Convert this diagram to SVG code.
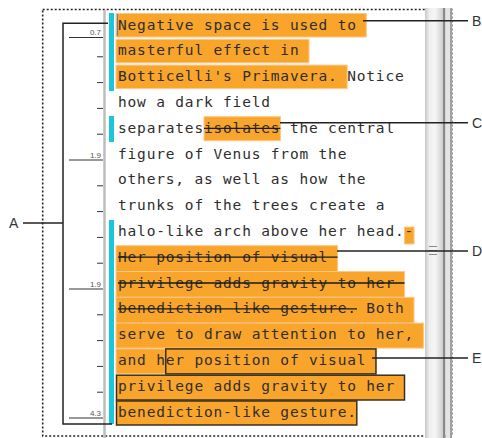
<svg xmlns="http://www.w3.org/2000/svg" width="482" height="438" viewBox="0 0 482 438">
<defs>
<style>
.t{font-family:"DejaVu Sans Mono","Liberation Mono",monospace;font-size:14.5px;letter-spacing:0.82px;fill:#2e2e2e}
.h{fill:#f9a52c;stroke:#fcc888;stroke-width:1}
.hb{fill:#f9a52c;stroke:#3a3020;stroke-width:1.5}
.cy{fill:#19c6dc}
.st{stroke:#1a1a1a;stroke-width:1.3}
.ld{stroke:#222;stroke-width:1.5;fill:none}
.lbl{font-family:"Liberation Sans",Arial,sans-serif;font-size:14px;fill:#333}
.rn{font-family:"Liberation Sans",Arial,sans-serif;font-size:8px;fill:#555;text-anchor:end}
.tk{stroke:#333;stroke-width:1}
</style>
<linearGradient id="sb" x1="0" x2="1" y1="0" y2="0">
<stop offset="0" stop-color="#c8c8c8"/>
<stop offset="0.25" stop-color="#efefef"/>
<stop offset="0.55" stop-color="#f6f6f6"/>
<stop offset="1" stop-color="#cfcfcf"/>
</linearGradient>
</defs>
<rect width="482" height="438" fill="#fff"/>
<g id="frame">
<rect x="42.7" y="9.5" width="409" height="426.5" fill="none" stroke="#222" stroke-width="1.6" stroke-dasharray="2 2"/>
</g>
<g id="scrollbar">
<rect x="425" y="8" width="18" height="430" fill="url(#sb)"/>
<rect x="443" y="8" width="2.5" height="430" fill="#8a8a8a"/>
<rect x="445.5" y="8" width="4.5" height="430" fill="#e4e4e4"/>
<rect x="450" y="8" width="2" height="430" fill="#a0a0a0"/>
<line x1="429" y1="246.5" x2="437" y2="246.5" stroke="#888" stroke-width="1"/>
<line x1="429" y1="250.5" x2="437" y2="250.5" stroke="#888" stroke-width="1"/>
<line x1="429" y1="254.5" x2="437" y2="254.5" stroke="#888" stroke-width="1"/>
</g>
<g id="ruler">
<line x1="104.5" y1="10" x2="104.5" y2="438" stroke="#bdbdbd" stroke-width="2.5"/>
<line class="tk" x1="69" y1="37.5" x2="103" y2="37.5"/><text class="rn" x="101" y="35">0.7</text>
<line class="tk" x1="97" y1="56.8" x2="103" y2="56.8"/>
<line class="tk" x1="97" y1="82.6" x2="103" y2="82.6"/>
<line class="tk" x1="97" y1="108.4" x2="103" y2="108.4"/>
<line class="tk" x1="97" y1="134.2" x2="103" y2="134.2"/>
<line class="tk" x1="69" y1="160" x2="103" y2="160"/><text class="rn" x="101" y="157.5">1.9</text>
<line class="tk" x1="97" y1="185.8" x2="103" y2="185.8"/>
<line class="tk" x1="97" y1="211.6" x2="103" y2="211.6"/>
<line class="tk" x1="97" y1="237.4" x2="103" y2="237.4"/>
<line class="tk" x1="97" y1="263.2" x2="103" y2="263.2"/>
<line class="tk" x1="69" y1="289" x2="103" y2="289"/><text class="rn" x="101" y="286.5">1.9</text>
<line class="tk" x1="97" y1="314.8" x2="103" y2="314.8"/>
<line class="tk" x1="97" y1="340.6" x2="103" y2="340.6"/>
<line class="tk" x1="97" y1="366.4" x2="103" y2="366.4"/>
<line class="tk" x1="97" y1="392.2" x2="103" y2="392.2"/>
<line class="tk" x1="69" y1="418" x2="103" y2="418"/><text class="rn" x="101" y="415.5">4.3</text>
</g>
<g id="change-bars">
<rect class="cy" x="109" y="13" width="5" height="78"/>
<rect class="cy" x="109" y="116" width="5" height="26"/>
<rect class="cy" x="109" y="220" width="5" height="204"/>
</g>
<g id="highlights">
<rect class="h" x="116" y="13.5" width="250.3" height="23.5"/>
<rect class="h" x="116" y="39.3" width="193" height="23.5"/>
<rect class="h" x="116" y="65.1" width="231.2" height="23.5"/>
<rect class="h" x="204" y="116.7" width="76.4" height="24"/>
<rect class="h" x="404.5" y="227" width="9.55" height="17"/>
<rect class="h" x="116" y="245.7" width="221.6" height="25.8"/>
<rect class="h" x="116" y="271.5" width="288.5" height="25.8"/>
<rect class="h" x="116" y="297.3" width="298" height="25.8"/>
<rect class="h" x="116" y="323.1" width="307.6" height="25"/>
<rect class="h" x="116" y="348.9" width="260" height="25"/>
<rect class="hb" x="165.75" y="348.9" width="210.2" height="25"/>
<rect class="hb" x="116.5" y="375.2" width="288" height="24.8"/>
<rect class="hb" x="116.5" y="401" width="240.3" height="24"/>
<line x1="117.5" y1="14" x2="117.5" y2="36" stroke="#5a7fc0" stroke-width="1"/>
</g>
<g id="text">
<text class="t" x="118" y="29.5">Negative space is used to</text>
<text class="t" x="118" y="55.3">masterful effect in</text>
<text class="t" x="118" y="81.1">Botticelli's Primavera. Notice</text>
<text class="t" x="118" y="106.9">how a dark field</text>
<text class="t" x="118" y="132.7">separatesisolates the central</text>
<text class="t" x="118" y="158.5">figure of Venus from the</text>
<text class="t" x="118" y="184.3">others, as well as how the</text>
<text class="t" x="118" y="210.1">trunks of the trees create a</text>
<text class="t" x="118" y="235.9">halo-like arch above her head.-</text>
<text class="t" x="118" y="261.7">Her position of visual</text>
<text class="t" x="118" y="287.5">privilege adds gravity to her</text>
<text class="t" x="118" y="313.3">benediction like gesture. Both</text>
<text class="t" x="118" y="339.1">serve to draw attention to her,</text>
<text class="t" x="118" y="364.9">and her position of visual</text>
<text class="t" x="118" y="390.7">privilege adds gravity to her</text>
<text class="t" x="118" y="416.5">benediction-like gesture.</text>
</g>
<g id="strikes">
<line class="st" x1="204" y1="128.3" x2="280.4" y2="128.3"/>
<line class="st" x1="118" y1="257.2" x2="337.6" y2="257.2"/>
<line class="st" x1="118" y1="283" x2="404.5" y2="283"/>
<line class="st" x1="118" y1="308.8" x2="357" y2="308.8"/>
</g>
<g id="connectors">
<path class="ld" d="M108 23.3 H63 V424 H112"/>
<line class="ld" x1="23" y1="223" x2="63" y2="223"/>
<line class="ld" x1="363" y1="20.7" x2="468" y2="20.7"/>
<line class="ld" x1="280" y1="122.7" x2="468" y2="122.7"/>
<line class="ld" x1="337" y1="251" x2="468" y2="251"/>
<line class="ld" x1="372" y1="358" x2="468" y2="358"/>
</g>
<g id="label-A"><text class="lbl" x="9" y="228">A</text></g>
<g id="label-B"><text class="lbl" x="472" y="26">B</text></g>
<g id="label-C"><text class="lbl" x="472" y="128">C</text></g>
<g id="label-D"><text class="lbl" x="472" y="256">D</text></g>
<g id="label-E"><text class="lbl" x="472" y="363">E</text></g>
</svg>
